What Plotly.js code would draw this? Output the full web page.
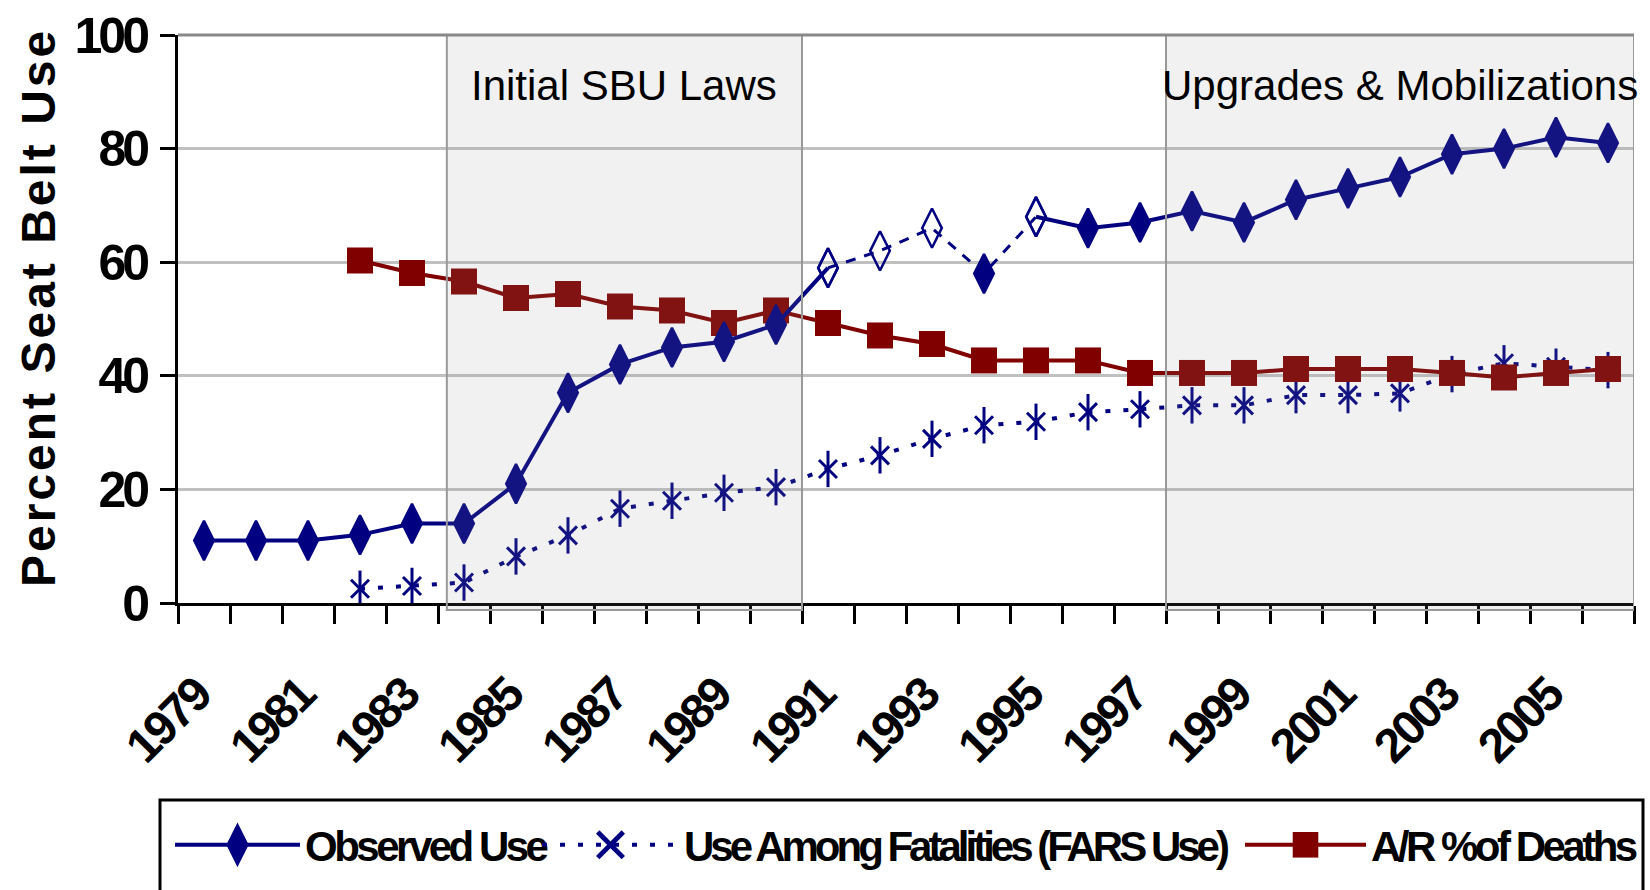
<!DOCTYPE html>
<html><head><meta charset="utf-8">
<script src="https://cdn.plot.ly/plotly-3.0.1.min.js"></script>
<style>
html,body{margin:0;padding:0;background:#fff;}
#chart{width:1650px;height:890px;}
.annotation[data-index="0"] .annotation-text{letter-spacing:3px;}
.xtick text{letter-spacing:-3px;}
.ytick text{letter-spacing:-4px;}
</style></head><body><div id="chart"></div>
<script>
const years = [1979,1980,1981,1982,1983,1984,1985,1986,1987,1988,1989,1990,1991,1992,1993,1994,1995,1996,1997,1998,1999,2000,2001,2002,2003,2004,2005,2006];
const observedUse = [11,11,11,12,14,14,21,37,42,45,46,49,59,62,66,58,68,66,67,69,67,71,73,75,79,80,82,81];
const farsUse = [null,null,null,2.5,3,3.6,8.2,11.9,16.6,18,19.4,20.4,23.6,26,28.9,31.3,31.9,33.6,34.1,34.8,34.8,36.6,36.6,36.9,40.3,42.2,41.6,41];
const arDeaths = [null,null,null,60.3,58.1,56.6,53.7,54.4,52.2,51.5,49.3,51.5,49.3,47.1,45.6,42.7,42.7,42.7,40.5,40.5,40.5,41.2,41.2,41.2,40.5,39.7,40.5,41.2];
const observedOpenYears = [1991,1992,1993,1995];
const observedDashedSpan = [1991,1995];
const xTickLabels = ['1979','1981','1983','1985','1987','1989','1991','1993','1995','1997','1999','2001','2003','2005'];
const yTickValues = [0,20,40,60,80,100];
const regionNames = ['Initial SBU Laws','Upgrades & Mobilizations'];
const regionStart = [1983.67,1997.5];
const regionEnd = [1990.5,2006.5];
const seriesNames = ['Observed Use','Use Among Fatalities (FARS Use)','A/R %of Deaths'];
const yTitle = 'Percent Seat Belt Use';

const NAVY = '#000080', MAROON = '#800000';
const SANS = "'Liberation Sans', Arial, sans-serif";

const L = 178, R = 1634, T = 35, B = 603;
const px2x = p => (p - L) / (R - L);
const py2y = p => (B - p) / (B - T);

const inDash = y => y > observedDashedSpan[0] && y < observedDashedSpan[1];
const inDashClosed = y => y >= observedDashedSpan[0] && y <= observedDashedSpan[1];
const sym = y => observedOpenYears.includes(y) ? 'diamond-tall-open' : 'diamond-tall';

const traces = [
  {x: years, y: farsUse, name: seriesNames[1], legend: 'legend2', mode: 'lines+markers',
   line: {color: NAVY, width: 4, dash: '5px,13px'},
   marker: {symbol: 'x-thin-open', size: 18, color: NAVY, line: {color: NAVY, width: 3}}},
  {x: years, y: farsUse, showlegend: false, mode: 'markers', hoverinfo: 'skip',
   marker: {symbol: 'line-ns-open', size: 26, color: NAVY, line: {color: NAVY, width: 3}}},
  {x: years, y: arDeaths, name: seriesNames[2], legend: 'legend3', mode: 'lines+markers',
   line: {color: MAROON, width: 4},
   marker: {symbol: 'square', size: 26, color: MAROON}},
  {x: years, y: observedUse.map((v, i) => inDash(years[i]) ? null : v), name: seriesNames[0], legend: 'legend',
   mode: 'lines+markers', connectgaps: false,
   line: {color: NAVY, width: 4},
   marker: {symbol: years.map(sym), size: 28, color: NAVY, line: {color: NAVY, width: 2.5}}},
  {x: years, y: observedUse.map((v, i) => inDashClosed(years[i]) ? v : null), showlegend: false,
   mode: 'lines+markers', connectgaps: false,
   line: {color: NAVY, width: 3, dash: '10px,9px'},
   marker: {symbol: years.map(sym), size: 28, color: NAVY, line: {color: NAVY, width: 2.5}}}
];

const legendBase = {orientation: 'h', yanchor: 'middle', xanchor: 'left', y: py2y(845),
  bgcolor: 'rgba(0,0,0,0)', borderwidth: 0, itemsizing: 'trace',
  font: {family: SANS, size: 42, weight: 'bold', color: '#000'}};

const shapes = regionStart.map((s, i) => ({type: 'rect', xref: 'x', yref: 'paper', x0: s, x1: regionEnd[i],
  y0: py2y(610), y1: 1, layer: 'above', fillcolor: 'rgba(150,150,150,0.13)', line: {color: '#999', width: 2}}));
shapes.push({type: 'line', xref: 'paper', yref: 'paper', x0: 0, x1: 1, y0: 1, y1: 1, line: {color: '#888', width: 3}});
shapes.push({type: 'rect', xref: 'paper', yref: 'paper', x0: px2x(160), x1: px2x(1643), y0: py2y(910), y1: py2y(800),
  line: {color: '#000', width: 3}, fillcolor: 'rgba(0,0,0,0)'});

const annotations = [{text: yTitle, textangle: -90, xref: 'paper', yref: 'paper', x: 0, xanchor: 'right', xshift: -(L - 66),
  y: py2y(308), yanchor: 'middle', showarrow: false, font: {family: SANS, size: 48, weight: 'bold', color: '#000'}}];
regionNames.forEach((n, i) => annotations.push({text: n, xref: 'x', yref: 'paper', x: (regionStart[i] + regionEnd[i]) / 2,
  y: py2y(85), yanchor: 'middle', showarrow: false, font: {family: SANS, size: 42, color: '#000'}}));

const xTickVals = xTickLabels.map(Number);
const boundaries = years.map(y => y - 0.5).concat([years[years.length - 1] + 0.5]);

const layout = {
  width: 1650, height: 890, paper_bgcolor: '#fff', plot_bgcolor: '#fff',
  margin: {l: L, r: 1650 - R, t: T, b: 890 - B, autoexpand: false},
  xaxis: {type: 'linear', range: [years[0] - 0.5, years[years.length - 1] + 0.5], showgrid: false, zeroline: false,
    showline: true, linecolor: '#000', linewidth: 3, tickmode: 'array', tickvals: xTickVals, ticktext: xTickLabels,
    ticks: '', tickangle: -45, ticklabelstandoff: 42, ticklabelshift: -8,
    tickfont: {family: SANS, size: 48, weight: 'bold', color: '#000'},
    minor: {tickvals: boundaries, ticks: 'outside', ticklen: 18, tickwidth: 3, tickcolor: '#000', showgrid: false}},
  yaxis: {range: [0, 100], tickmode: 'array', tickvals: yTickValues, ticks: 'outside', ticklen: 15, tickwidth: 3,
    tickcolor: '#000', showline: true, linecolor: '#000', linewidth: 3, showgrid: true, gridcolor: '#c0c0c0',
    gridwidth: 3, zeroline: false, ticklabelstandoff: 4,
    tickfont: {family: SANS, size: 50, weight: 'bold', color: '#000'}},
  legend: Object.assign({}, legendBase, {x: px2x(170), itemwidth: 125}),
  legend2: Object.assign({}, legendBase, {x: px2x(537), itemwidth: 137}),
  legend3: Object.assign({}, legendBase, {x: px2x(1240), itemwidth: 121}),
  shapes: shapes, annotations: annotations, showlegend: true
};

Plotly.newPlot('chart', traces, layout, {displayModeBar: false, staticPlot: true}).then(() => {
  const spacing = {'Observed Use': '-3.5px', 'Use Among Fatalities (FARS Use)': '-4px', 'A/R %of Deaths': '-3.5px'};
  document.querySelectorAll('#chart svg text').forEach(t => {
    if (spacing[t.textContent]) t.style.letterSpacing = spacing[t.textContent];
  });
  document.querySelectorAll('#chart .infolayer path.scatterpts').forEach(p => {
    const tr = p.getAttribute('transform') || '';
    p.setAttribute('transform', tr + ' scale(1.6)');
  });
});
</script></body></html>
